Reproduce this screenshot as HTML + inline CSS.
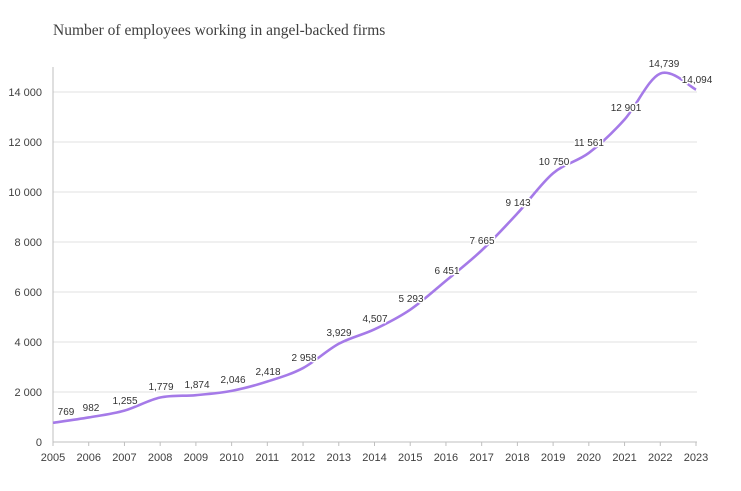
<!DOCTYPE html>
<html><head><meta charset="utf-8"><style>
html,body{margin:0;padding:0;background:#fff}
svg{display:block}
.lb text{paint-order:stroke;stroke:#fff;stroke-width:3px;stroke-linejoin:round}
</style></head><body>
<svg id="s" width="741" height="491" xmlns="http://www.w3.org/2000/svg" font-family="Liberation Sans, sans-serif">
<text x="53" y="35" font-family="Liberation Serif, serif" font-size="15.5" fill="#404040">Number of employees working in angel-backed firms</text>
<g stroke="#e0e0e0" stroke-width="1">
<line x1="53" y1="392" x2="697" y2="392"/><line x1="53" y1="342" x2="697" y2="342"/>
<line x1="53" y1="292" x2="697" y2="292"/><line x1="53" y1="242" x2="697" y2="242"/>
<line x1="53" y1="192" x2="697" y2="192"/><line x1="53" y1="142" x2="697" y2="142"/>
<line x1="53" y1="92" x2="697" y2="92"/>
</g>
<line x1="53" y1="67" x2="53" y2="442" stroke="#bfbfbf"/>
<line x1="53" y1="442" x2="697" y2="442" stroke="#bfbfbf"/>
<g font-size="11" fill="#404040" text-anchor="end">
<text x="42" y="446">0</text><text x="42" y="396">2 000</text><text x="42" y="346">4 000</text>
<text x="42" y="296">6 000</text><text x="42" y="246">8 000</text><text x="42" y="196">10 000</text>
<text x="42" y="146">12 000</text><text x="42" y="96">14 000</text>
</g>
<g id="xt" font-size="11" fill="#404040" text-anchor="middle"></g>
<g id="tk" stroke="#bfbfbf"></g>
<path id="ln" fill="none" stroke="#a57ae8" stroke-width="2.6"/>
<g class="lb" font-size="10" fill="#333" text-anchor="middle">
<text x="66" y="415">769</text><text x="91" y="411">982</text><text x="125" y="404">1,255</text>
<text x="161" y="390">1,779</text><text x="197" y="388">1,874</text><text x="233" y="383">2,046</text>
<text x="268" y="375">2,418</text><text x="304" y="361">2 958</text><text x="339" y="336">3,929</text>
<text x="375" y="322">4,507</text><text x="411" y="302">5 293</text><text x="447" y="274">6 451</text>
<text x="482" y="244">7 665</text><text x="518" y="206">9 143</text><text x="554" y="165">10 750</text>
<text x="589" y="146">11 561</text><text x="626" y="111">12 901</text><text x="664" y="67">14,739</text>
<text x="697" y="83">14,094</text>
</g>
</svg>
<script>
var v=[769,982,1255,1779,1874,2046,2418,2958,3929,4507,5293,6451,7665,9143,10750,11561,12901,14739,14094];
var dx=(696-53)/18,p=v.map(function(a,i){return [53+i*dx,442-a*0.025]});
var d="M"+p[0][0]+","+p[0][1];
for(var i=0;i<p.length-1;i++){var a=p[i-1]||p[i],b=p[i],c=p[i+1],e=p[i+2]||c;
d+=" C"+(b[0]+(c[0]-a[0])/6)+","+(b[1]+(c[1]-a[1])/6)+" "+(c[0]-(e[0]-b[0])/6)+","+(c[1]-(e[1]-b[1])/6)+" "+c[0]+","+c[1];}
document.getElementById("ln").setAttribute("d",d);
var xt="",tk="";for(var i=0;i<19;i++){var x=53+i*dx;xt+='<text x="'+x+'" y="461">'+(2005+i)+'</text>';tk+='<line x1="'+x+'" y1="442" x2="'+x+'" y2="446"/>';}
document.getElementById("xt").innerHTML=xt;document.getElementById("tk").innerHTML=tk;
</script>
</body></html>
